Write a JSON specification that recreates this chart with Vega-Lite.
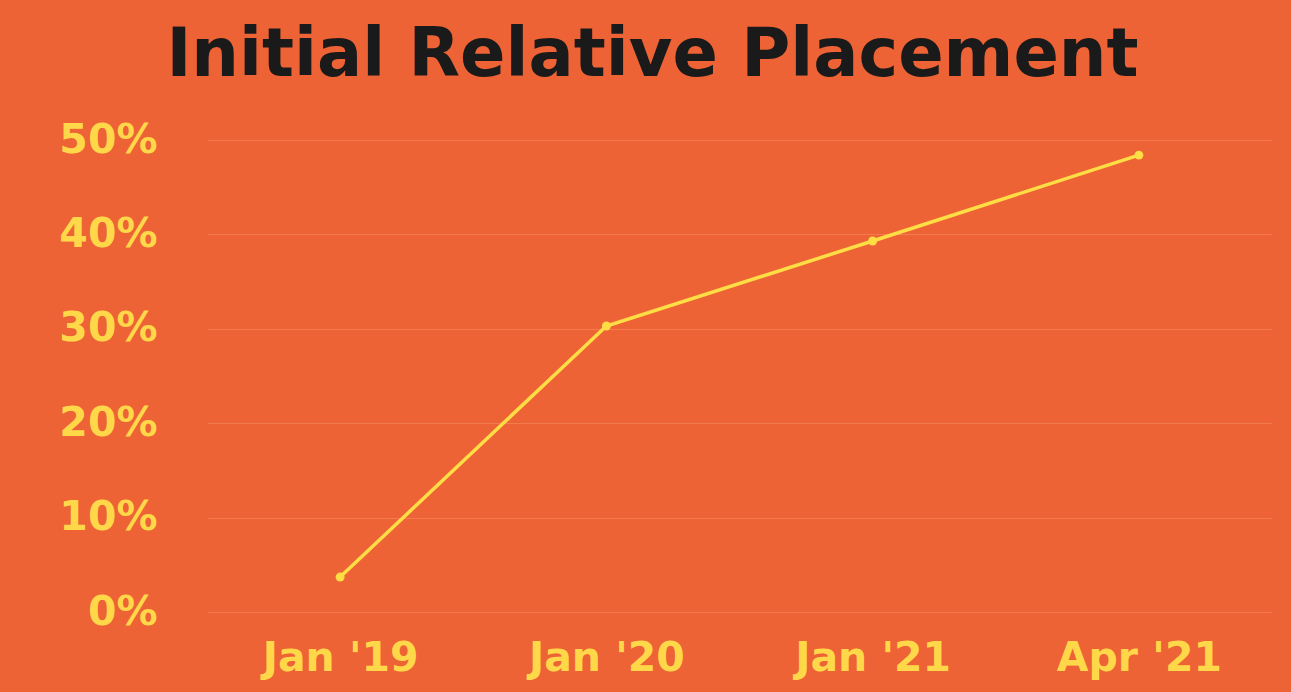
{
  "$schema": "https://vega.github.io/schema/vega-lite/v6.json",
  "autosize": "none",
  "width": 1065,
  "height": 472,
  "padding": {"left": 207, "top": 140, "right": 19, "bottom": 80},
  "background": "#EE6336",
  "title": {
    "text": "Initial Relative Placement",
    "font": "DejaVu Sans",
    "fontWeight": "bold",
    "fontSize": 67,
    "color": "#1A1A1A",
    "anchor": "middle",
    "dx": -87,
    "offset": 29
  },
  "data": {
    "values": [
      {"period": "Jan '19", "share": 0.037},
      {"period": "Jan '20", "share": 0.303},
      {"period": "Jan '21", "share": 0.393},
      {"period": "Apr '21", "share": 0.484}
    ]
  },
  "config": {
    "view": {"stroke": null},
    "axis": {
      "labelFont": "DejaVu Sans",
      "labelFontWeight": "bold",
      "labelColor": "#FFD84A",
      "labelFontSize": 41,
      "ticks": false,
      "domain": false,
      "title": null
    }
  },
  "mark": {"type": "line", "color": "#FFDD44", "strokeWidth": 3.5, "point": {"filled": true, "size": 80, "color": "#FFDD44"}},
  "encoding": {
    "x": {
      "field": "period",
      "type": "ordinal",
      "sort": null,
      "scale": {"paddingInner": 0, "paddingOuter": 0},
      "axis": {"labelAngle": 0, "labelPadding": 26, "grid": false}
    },
    "y": {
      "field": "share",
      "type": "quantitative",
      "scale": {"domain": [0, 0.5]},
      "axis": {
        "values": [0, 0.1, 0.2, 0.3, 0.4, 0.5],
        "format": ".0%",
        "labelPadding": 50,
        "grid": true,
        "gridColor": "#F47B4E",
        "gridWidth": 1
      }
    }
  }
}
